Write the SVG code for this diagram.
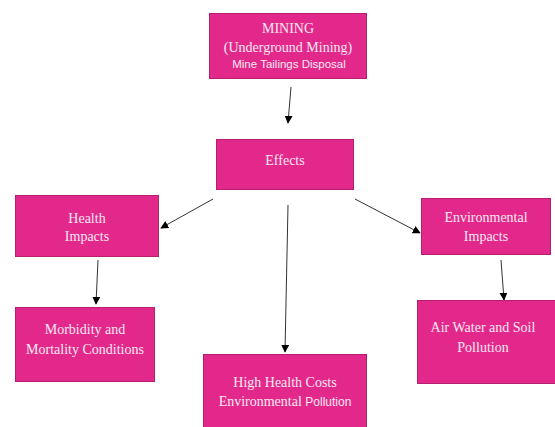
<svg xmlns="http://www.w3.org/2000/svg" width="555" height="427" viewBox="0 0 555 427">
<style>
.box{fill:#E2298B;stroke:#B51F6E;stroke-width:1}
.t{font-family:"Liberation Serif","Times New Roman",serif;font-size:14px;fill:#FCE8F2;text-anchor:middle}
.s{font-family:"Liberation Sans",Arial,sans-serif;font-size:11.5px;fill:#FCE8F2}
.c{stroke:#333;stroke-width:1;fill:none;marker-end:url(#ah)}
</style>
<defs>
<marker id="ah" viewBox="0 0 10 10" refX="9" refY="5" markerWidth="8" markerHeight="8" markerUnits="userSpaceOnUse" orient="auto">
<path d="M0,0 L10,5 L0,10 Z" fill="#000"/>
</marker>
</defs>
<rect width="555" height="427" fill="#fff"/>
<g id="connectors">
<line class="c" x1="291" y1="87" x2="288" y2="123"/>
<line class="c" x1="213" y1="199" x2="161" y2="228"/>
<line class="c" x1="355" y1="199" x2="420" y2="233"/>
<line class="c" x1="288" y1="205" x2="285" y2="352"/>
<line class="c" x1="98" y1="260" x2="96" y2="304"/>
<line class="c" x1="501" y1="260" x2="504" y2="300"/>
</g>
<g id="mining">
<rect class="box" x="209.5" y="13.5" width="157" height="65"/>
<text class="t" x="288" y="33">MINING</text>
<text class="t" x="288" y="52">(Underground Mining)</text>
<text class="s" x="289" y="68" text-anchor="middle">Mine Tailings Disposal</text>
</g>
<g id="effects">
<rect class="box" x="216.5" y="139.5" width="137" height="50"/>
<text class="t" x="285" y="165">Effects</text>
</g>
<g id="health">
<rect class="box" x="15.5" y="195.5" width="143" height="61"/>
<text class="t" x="87" y="223">Health</text>
<text class="t" x="87" y="241">Impacts</text>
</g>
<g id="environmental">
<rect class="box" x="421.5" y="198.5" width="129" height="56"/>
<text class="t" x="486" y="222">Environmental</text>
<text class="t" x="486" y="241">Impacts</text>
</g>
<g id="morbidity">
<rect class="box" x="15.5" y="307.5" width="139" height="74"/>
<text class="t" x="85" y="334">Morbidity and</text>
<text class="t" x="85" y="354">Mortality Conditions</text>
</g>
<g id="pollution">
<rect class="box" x="417.5" y="300.5" width="140" height="83"/>
<text class="t" x="483" y="332">Air Water and Soil</text>
<text class="t" x="483" y="352">Pollution</text>
</g>
<g id="costs">
<rect class="box" x="203.5" y="354.5" width="163" height="80"/>
<text class="t" x="285" y="387">High Health Costs</text>
<text class="t" x="285" y="406"><tspan>Environmental </tspan><tspan font-family="Liberation Sans,Arial,sans-serif" font-size="12px">Pollution</tspan></text>
</g>
</svg>
